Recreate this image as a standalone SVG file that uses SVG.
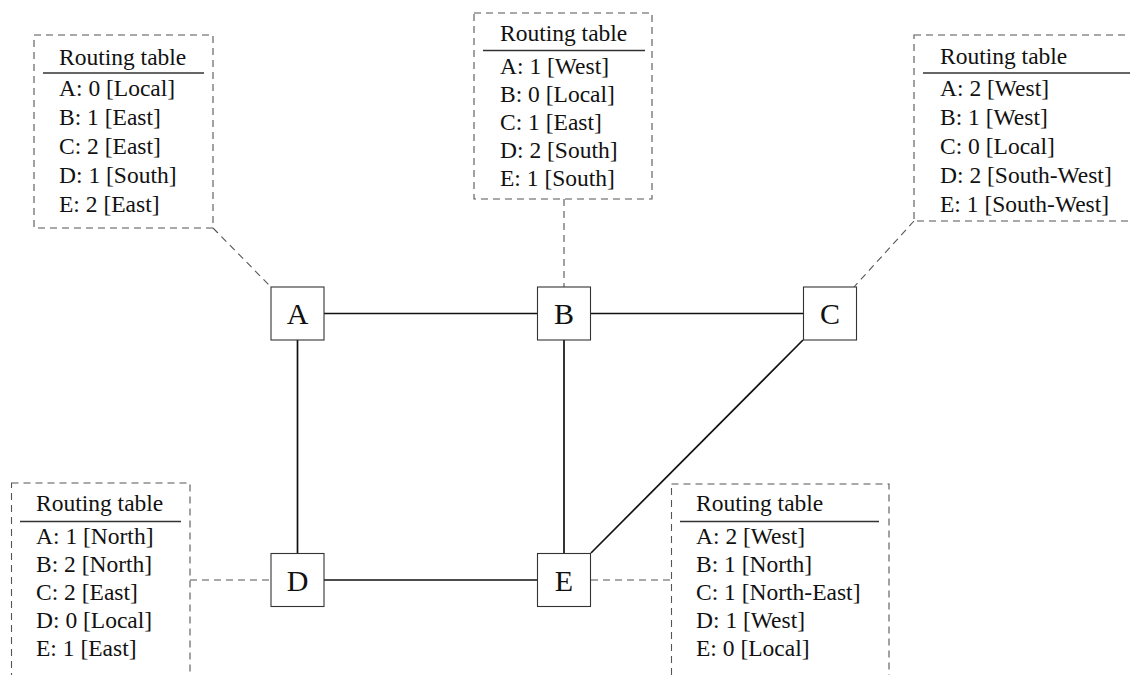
<svg xmlns="http://www.w3.org/2000/svg" width="1130" height="675" viewBox="0 0 1130 675">
<style>
text{font-family:"Liberation Serif","Times New Roman",serif;fill:#111}
.t{font-size:23.5px}
.n{font-size:30px;text-anchor:middle}
.box{fill:#fff;stroke:#333;stroke-width:1.1}
.tab{fill:none;stroke:#555;stroke-width:1.1;stroke-dasharray:7 5}
.ul{stroke:#333;stroke-width:1.3}
.edge{stroke:#111;stroke-width:1.7;fill:none}
.dash{stroke:#555;stroke-width:1.1;stroke-dasharray:7 5;fill:none}
</style>
<rect width="1130" height="675" fill="#fff"/>
<g id="connectors">
<line class="edge" x1="324" y1="313.5" x2="537" y2="313.5"/>
<line class="edge" x1="591" y1="313.5" x2="803" y2="313.5"/>
<line class="edge" x1="297.5" y1="340" x2="297.5" y2="553"/>
<line class="edge" x1="564" y1="340" x2="564" y2="553"/>
<line class="edge" x1="324" y1="580" x2="537" y2="580"/>
<line class="edge" x1="803" y1="340" x2="591" y2="553"/>
<line class="dash" x1="213" y1="228" x2="271" y2="287"/>
<line class="dash" x1="564" y1="199" x2="564" y2="287"/>
<line class="dash" x1="914" y1="221" x2="854" y2="287"/>
<line class="dash" x1="190" y1="580" x2="271" y2="580"/>
<line class="dash" x1="591" y1="580" x2="672" y2="580"/>
</g>
<g id="A"><rect class="box" x="271" y="287" width="53" height="53"/><text class="n" x="297.5" y="324">A</text></g>
<g id="B"><rect class="box" x="537.5" y="287" width="53" height="53"/><text class="n" x="564" y="324">B</text></g>
<g id="C"><rect class="box" x="803.5" y="287" width="53" height="53"/><text class="n" x="830" y="324">C</text></g>
<g id="D"><rect class="box" x="271" y="553.5" width="53" height="53"/><text class="n" x="297.5" y="590.5">D</text></g>
<g id="E"><rect class="box" x="537.5" y="553.5" width="53" height="53"/><text class="n" x="564" y="590.5">E</text></g>
<g id="tableA">
<rect class="tab" x="34" y="35" width="179" height="193"/>
<line class="ul" x1="43" y1="73" x2="204" y2="73"/>
<text class="t" x="59" y="65">Routing table</text>
<text class="t" x="59" y="96">A: 0 [Local]</text>
<text class="t" x="59" y="125">B: 1 [East]</text>
<text class="t" x="59" y="154">C: 2 [East]</text>
<text class="t" x="59" y="183">D: 1 [South]</text>
<text class="t" x="59" y="212">E: 2 [East]</text>
</g>
<g id="tableB">
<rect class="tab" x="474" y="13" width="178" height="186"/>
<line class="ul" x1="483" y1="50.5" x2="645" y2="50.5"/>
<text class="t" x="500" y="41">Routing table</text>
<text class="t" x="500" y="74">A: 1 [West]</text>
<text class="t" x="500" y="102">B: 0 [Local]</text>
<text class="t" x="500" y="130">C: 1 [East]</text>
<text class="t" x="500" y="158">D: 2 [South]</text>
<text class="t" x="500" y="186">E: 1 [South]</text>
</g>
<g id="tableC">
<rect class="tab" x="914" y="35" width="230" height="186"/>
<line class="ul" x1="923" y1="73" x2="1130" y2="73"/>
<text class="t" x="940" y="64">Routing table</text>
<text class="t" x="940" y="96">A: 2 [West]</text>
<text class="t" x="940" y="125">B: 1 [West]</text>
<text class="t" x="940" y="154">C: 0 [Local]</text>
<text class="t" x="940" y="183">D: 2 [South-West]</text>
<text class="t" x="940" y="212">E: 1 [South-West]</text>
</g>
<g id="tableD">
<rect class="tab" x="11.5" y="483" width="178.5" height="220"/>
<line class="ul" x1="20" y1="521.5" x2="181" y2="521.5"/>
<text class="t" x="36" y="511">Routing table</text>
<text class="t" x="36" y="544">A: 1 [North]</text>
<text class="t" x="36" y="572">B: 2 [North]</text>
<text class="t" x="36" y="600">C: 2 [East]</text>
<text class="t" x="36" y="628">D: 0 [Local]</text>
<text class="t" x="36" y="656">E: 1 [East]</text>
</g>
<g id="tableE">
<rect class="tab" x="671.5" y="484" width="217.5" height="220"/>
<line class="ul" x1="680" y1="521.5" x2="879" y2="521.5"/>
<text class="t" x="696" y="511">Routing table</text>
<text class="t" x="696" y="544">A: 2 [West]</text>
<text class="t" x="696" y="572">B: 1 [North]</text>
<text class="t" x="696" y="600">C: 1 [North-East]</text>
<text class="t" x="696" y="628">D: 1 [West]</text>
<text class="t" x="696" y="656">E: 0 [Local]</text>
</g>
</svg>
